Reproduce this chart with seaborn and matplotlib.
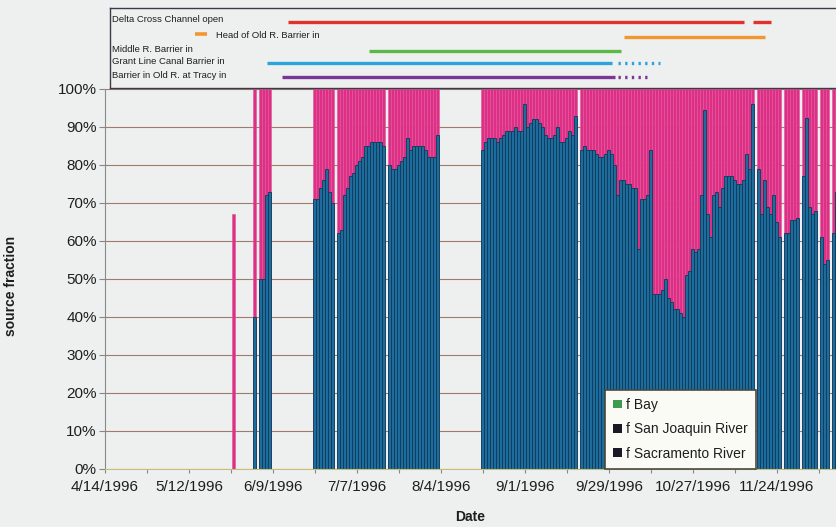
import pandas as pd
import matplotlib
matplotlib.use("Agg")
import matplotlib.pyplot as plt
from matplotlib.patches import Patch
from matplotlib.ticker import PercentFormatter
import seaborn as sns

# --- DADOS ---
START = pd.Timestamp("1996-04-14")
END_DAY = 244  # última coluna visível (14/12/1996)

# bloco de maio/junho: poucos dias isolados
early_first_day = "1996-05-27"
early_sac = [0.0, None, None, None, None, None, None, 0.40, None, 0.50, 0.50, 0.72, 0.73]
early_sjr = [0.67, None, None, None, None, None, None, 0.60, None, 0.50, 0.50, 0.28, 0.27]

# bloco de junho a agosto
summer_first_day = "1996-06-23"
summer_sac = [0.71, 0.71, 0.74, 0.76, 0.79, 0.73, 0.70, None,
              0.62, 0.63, 0.72, 0.74, 0.77, 0.78, 0.80, 0.81, 0.82, 0.85, 0.85, 0.86, 0.86, 0.86, 0.86, 0.85, None,
              0.80, 0.79, 0.79, 0.80, 0.81, 0.82, 0.87, 0.84, 0.85, 0.85, 0.85, 0.85, 0.84, 0.82, 0.82, 0.82, 0.88]

# bloco de agosto a dezembro
fall_first_day = "1996-08-18"
fall_sac = [0.84, 0.86, 0.87, 0.87, 0.87, 0.86, 0.87, 0.88, 0.89, 0.89, 0.89, 0.90, 0.89, 0.89, 0.96, 0.90,
            0.91, 0.92, 0.92, 0.91, 0.90, 0.88, 0.87, 0.87, 0.88, 0.90, 0.86, 0.86, 0.87, 0.89, 0.88, 0.93, None,
            0.84, 0.85, 0.84, 0.84, 0.84, 0.83, 0.82, 0.82, 0.83, 0.84, 0.83,
            0.80, 0.72, 0.76, 0.76, 0.75, 0.75, 0.74, 0.74,
            0.58, 0.71, 0.71, 0.72, 0.84, 0.46, 0.46, 0.46, 0.47, 0.50, 0.45, 0.44, 0.42, 0.42, 0.41, 0.40,
            0.51, 0.52, 0.58, 0.57, 0.58,
            0.72, 0.945, 0.67, 0.61, 0.72, 0.73, 0.69, 0.74, 0.77, 0.77, 0.77, 0.76, 0.75, 0.75, 0.76, 0.83, 0.79, 0.96, None,
            0.79, 0.67, 0.76, 0.69, 0.67, 0.72, 0.65, 0.61, None,
            0.62, 0.62, 0.655, 0.655, 0.66, None,
            0.77, 0.925, 0.69, 0.67, 0.68, None,
            0.61, 0.54, 0.55, None,
            0.62, 0.73]

tick_labels = ["4/14/1996", "5/12/1996", "6/9/1996", "7/7/1996", "8/4/1996",
               "9/1/1996", "9/29/1996", "10/27/1996", "11/24/1996"]
series_names = ["f Bay", "f San Joaquin River", "f Sacramento River"]

# painel de operações das barreiras
barrier_labels = ["Delta Cross Channel open", "Head of Old R. Barrier in", "Middle R. Barrier in",
                  "Grant Line Canal Barrier in", "Barrier in Old R. at Tracy in"]
barrier_on = [[("1996-06-14", "1996-11-13"), ("1996-11-16", "1996-11-22")],
              [("1996-10-04", "1996-11-20")],
              [("1996-07-11", "1996-10-03")],
              [("1996-06-07", "1996-09-30")],
              [("1996-06-12", "1996-10-01")]]
barrier_dotted = [None, None, None, ("1996-10-02", "1996-10-16"), ("1996-10-02", "1996-10-13")]
barrier_colors = ["#e2302c", "#f2962e", "#5cb848", "#2ba3dc", "#7b3597"]

# --- CORES / ESTILO ---
BG = "#eef0ef"
BLUE = "#1c6d9d"
BLUE_EDGE = "#0e3a58"
MAGENTA = "#dc2f85"
MAG_EDGE = "#e2559a"
TXT = "#1e1e1e"


def dia(data):
    return (pd.Timestamp(data) - START).days


def montar_bloco(first_day, sac, sjr=None):
    d0 = dia(first_day)
    linhas = []
    for i, v in enumerate(sac):
        if v is None:
            continue
        s = sjr[i] if sjr is not None else round(1 - v, 3)
        linhas.append((d0 + i, v, s))
    return linhas


rows = (montar_bloco(early_first_day, early_sac, early_sjr)
        + montar_bloco(summer_first_day, summer_sac)
        + montar_bloco(fall_first_day, fall_sac))
df = pd.DataFrame(rows, columns=["day", "sac", "sjr"])
df["total"] = df["sac"] + df["sjr"]

sns.set_style("white")
plt.rcParams["font.family"] = ["Liberation Sans", "DejaVu Sans"]

W, H = 837, 527
fig = plt.figure(figsize=(W / 100, H / 100), dpi=100, facecolor=BG)

# eixo principal: x=105px -> 4/14, 3px por dia; 0% em y=469, 100% em y=89
AX_L, AX_B, AX_T = 105, 469, 89
ax = fig.add_axes([AX_L / W, (H - AX_B) / H, 1 - AX_L / W, (AX_B - AX_T) / H], facecolor=BG)
px_per_day = (W - AX_L) / END_DAY

sns.barplot(data=df, x="day", y="total", native_scale=True, width=1, orient="x",
            color=MAGENTA, saturation=1, edgecolor=MAG_EDGE, linewidth=0.4,
            errorbar=None, ax=ax)
sns.barplot(data=df[df["sac"] > 0], x="day", y="sac", native_scale=True, width=1, orient="x",
            color=BLUE, saturation=1, edgecolor=BLUE_EDGE, linewidth=0.6,
            errorbar=None, ax=ax)

ax.set_xlim(0, END_DAY)
ax.set_ylim(0, 1.0)
ax.set_yticks([i / 10 for i in range(11)])
ax.yaxis.set_major_formatter(PercentFormatter(1.0, decimals=0))
major = [dia(t) for t in tick_labels]
ax.set_xticks(major)
ax.set_xticklabels(tick_labels)
ax.set_xticks([m + 14 for m in major], minor=True)
ax.grid(axis="y", color="#a07a6c", linewidth=0.8)
ax.grid(axis="x", visible=False)
ax.set_axisbelow(True)
ax.tick_params(axis="x", which="both", bottom=True, length=3, width=0.8, color="#888888",
               pad=5, labelsize=11, labelcolor=TXT)
ax.tick_params(axis="y", left=True, length=4, width=0.8, color="#888888", pad=2,
               labelsize=11, labelcolor=TXT)
for s in ["top", "right"]:
    ax.spines[s].set_visible(False)
ax.spines["left"].set_color("#8a8a8a")
ax.spines["bottom"].set_color("#c8c07a")
ax.set_xlabel("Date", fontsize=10, fontweight="bold", color=TXT)
ax.set_ylabel("source fraction", fontsize=10, fontweight="bold", color=TXT)
ax.xaxis.set_label_coords((470 - AX_L) / (W - AX_L), -(510 - AX_B) / (AX_B - AX_T))
ax.yaxis.set_label_coords(-(AX_L - 18) / (W - AX_L), (AX_B - 286) / (AX_B - AX_T))

handles = [Patch(facecolor="#3f9a52", edgecolor="none"),
           Patch(facecolor="#1a1a26", edgecolor="none"),
           Patch(facecolor="#1a1a26", edgecolor="none")]
leg = ax.legend(handles, series_names, loc="lower left",
                bbox_to_anchor=((605 - AX_L) / (W - AX_L), 0.0), borderaxespad=0,
                fontsize=10, handlelength=0.6, handleheight=0.6, handletextpad=0.3,
                labelspacing=0.75, frameon=True, fancybox=False, borderpad=0.6,
                framealpha=1)
leg.get_frame().set_facecolor("#fbfbf6")
leg.get_frame().set_edgecolor("#4a4a40")
leg.get_frame().set_linewidth(1.2)
for t in leg.get_texts():
    t.set_color(TXT)

# painel superior com as barreiras (mesma escala de datas)
P_L, P_T, P_B = 110, 8, 88
pax = fig.add_axes([P_L / W, (H - P_B) / H, 1 - P_L / W, (P_B - P_T) / H], facecolor=BG)
pax.set_xlim((P_L - AX_L) / px_per_day, END_DAY)
pax.set_ylim(P_B - P_T, 0)
pax.set_xticks([])
pax.set_yticks([])
pax.spines["right"].set_visible(False)
for s in ["left", "top", "bottom"]:
    pax.spines[s].set_color("#3a3a4a")
    pax.spines[s].set_linewidth(1.0)

row_y = [12, 27, 41, 53.5, 67]
for i, nome in enumerate(barrier_labels):
    y = row_y[i]
    cor = barrier_colors[i]
    if i == 1:
        # marcador curto antes do texto
        pax.plot([dia("1996-05-14"), dia("1996-05-18")], [y - 1, y - 1], color=cor, lw=2.6,
                 solid_capstyle="butt")
        pax.text(dia("1996-05-21"), y, nome, fontsize=6.8, color=TXT, va="center", ha="left")
    else:
        pax.text(0.003, 1 - y / (P_B - P_T), nome, transform=pax.transAxes, fontsize=6.8,
                 color=TXT, va="center", ha="left")
    for a, b in barrier_on[i]:
        pax.plot([dia(a), dia(b)], [y + 1.5, y + 1.5], color=cor, lw=2.4, solid_capstyle="butt")
    if barrier_dotted[i] is not None:
        a, b = barrier_dotted[i]
        pax.plot([dia(a), dia(b)], [y + 1.5, y + 1.5], color=cor, lw=2.4,
                 linestyle=(0, (0.7, 1.3)), dash_capstyle="butt")

fig.savefig("out.png", dpi=100, facecolor=BG)
